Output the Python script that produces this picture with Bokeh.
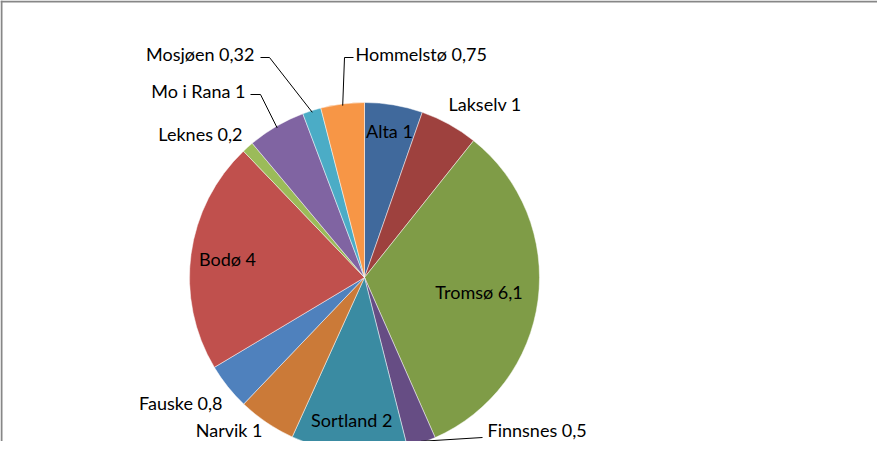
import math
from bokeh.plotting import figure
from bokeh.models import Range1d, ColumnDataSource
from bokeh.core.properties import value
from bokeh.embed import file_html
from bokeh.resources import INLINE

# ---- data ----
cities = ["Alta", "Lakselv", "Tromsø", "Finnsnes", "Sortland", "Narvik",
          "Fauske", "Bodø", "Leknes", "Mo i Rana", "Mosjøen", "Hommelstø"]
values = [1, 1, 6.1, 0.5, 2, 1, 0.8, 4, 0.2, 1, 0.32, 0.75]
value_text = ["1", "1", "6,1", "0,5", "2", "1", "0,8", "4", "0,2", "1", "0,32", "0,75"]

# ---- styles ----
colors = ["#40699C", "#9E413E", "#7F9C47", "#664D84", "#3A8BA2", "#CB7A38",
          "#4F81BD", "#C0504D", "#9BBB59", "#8064A2", "#4BACC6", "#F79646"]

W, H = 877, 441
FONT = "Lato"
FS = "18px"


def dx(xp):  # page x -> data x
    return xp - 8


def dy(yp):  # page y -> data y
    return 8 + H - yp


CX, CY, R = dx(372), dy(285), 175

# label layout: ("in", radius factor) or ("out", page x, page y, align, leader elbows)
label_layout = {
    "Alta": ("in", 0.85),
    "Lakselv": ("out", 456, 111, "left", None),
    "Tromsø": ("in", 0.66),
    "Finnsnes": ("out", 495, 437, "left", [(490, 445)]),
    "Sortland": ("in", 0.82),
    "Narvik": ("out", 270, 437, "right", None),
    "Fauske": ("out", 230, 410, "right", None),
    "Bodø": ("in", 0.79),
    "Leknes": ("out", 250, 141, "right", None),
    "Mo i Rana": ("out", 253, 98, "right", [(268, 102), (258, 102)]),
    "Mosjøen": ("out", 262, 61, "right", [(277, 65), (268, 65)]),
    "Hommelstø": ("out", 363, 61, "left", [(352, 65), (361, 65)]),
}

total = sum(values)
starts, ends, mids = [], [], []
acc = 0.0
for v in values:
    a0 = math.pi / 2 - 2 * math.pi * acc / total
    acc += v
    a1 = math.pi / 2 - 2 * math.pi * acc / total
    starts.append(a0)
    ends.append(a1)
    mids.append((a0 + a1) / 2)

p = figure(width=W, height=H, output_backend="svg", toolbar_location=None,
           x_range=Range1d(0, W), y_range=Range1d(0, H),
           min_border=0, outline_line_color=None)
p.axis.visible = False
p.grid.visible = False
p.background_fill_color = "white"
p.border_fill_color = "white"

src = ColumnDataSource(dict(start=starts, end=ends, color=colors, city=cities))
p.wedge(x=CX, y=CY, radius=R, start_angle="start", end_angle="end",
        direction="clock", fill_color="color", line_color="white",
        line_width=0.6, line_alpha=0.8, source=src)

# chart-area border (top and left edges visible in crop)
p.segment(x0=[0, 1], y0=[H - 1, 0], x1=[W, 1], y1=[H - 1, H],
          line_color="#878787", line_width=2)

lx, ly, lt, la = [], [], [], []
lead_xs, lead_ys = [], []
for i, c in enumerate(cities):
    spec = label_layout[c]
    txt = f"{c} {value_text[i]}"
    if spec[0] == "in":
        r = spec[1] * R
        lx.append(CX + r * math.cos(mids[i]))
        ly.append(CY + r * math.sin(mids[i]))
        la.append("center")
    else:
        _, xp, yp, al, elbows = spec
        lx.append(dx(xp))
        ly.append(dy(yp))
        la.append(al)
        if elbows:
            xs = [CX + 0.99 * R * math.cos(mids[i])]
            ys = [CY + 0.99 * R * math.sin(mids[i])]
            for ex, ey in elbows:
                xs.append(dx(ex))
                ys.append(dy(ey))
            lead_xs.append(xs)
            lead_ys.append(ys)
    lt.append(txt)

p.multi_line(xs=lead_xs, ys=lead_ys, line_color="black", line_width=1)

for align in ("left", "right", "center"):
    idx = [k for k in range(len(lt)) if la[k] == align]
    p.text(x=[lx[k] for k in idx], y=[ly[k] for k in idx], text=[lt[k] for k in idx],
           text_align=align, text_baseline="middle", text_color="black",
           text_font=value(FONT), text_font_size=FS)

open("out.html", "w").write(file_html(p, INLINE))
